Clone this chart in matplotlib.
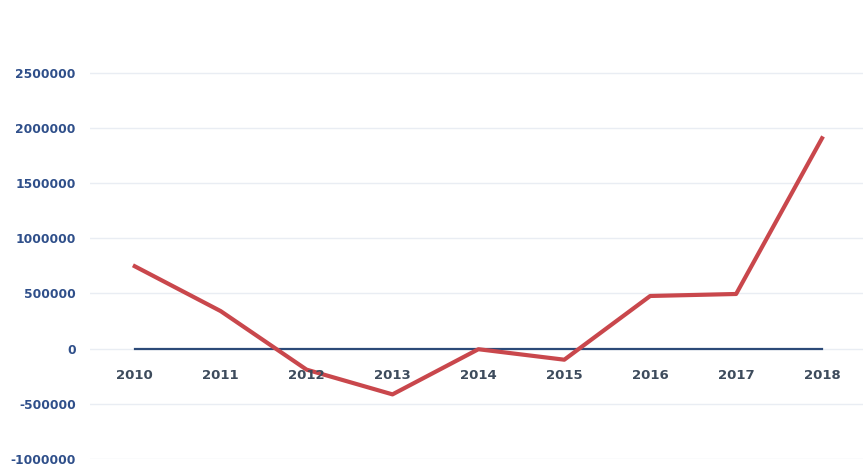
import matplotlib.pyplot as plt

years = ["2010", "2011", "2012", "2013", "2014", "2015", "2016", "2017", "2018"]
values = [746000, 340000, -190000, -414000, -5000, -100000, 477000, 495000, 1905000]
y_ticks = [-1000000, -500000, 0, 500000, 1000000, 1500000, 2000000, 2500000]

fig = plt.figure(figsize=(8.63, 4.68), dpi=100)
ax = fig.add_axes([0.104, 0.019, 0.896, 0.944])

x = list(range(len(years)))

for t in y_ticks:
    ax.axhline(t, color="#e9edf3", lw=1.0, zorder=0)

# zero line across the categories
ax.plot([0, len(years) - 1], [0, 0], color="#2c4a78", lw=1.6, zorder=2)
ax.plot(x, values, color="#c9474c", lw=3.0, solid_joinstyle="round", zorder=3)

for i, yr in enumerate(years):
    ax.text(i, -240000, yr, ha="center", va="center", fontsize=9.5,
            fontweight="bold", color="#3d4b5c")

ax.set_xlim(-0.524, 8.477)
ax.set_ylim(-1000000, 3000000)
ax.set_yticks(y_ticks)
ax.set_yticklabels([str(t) for t in y_ticks])
ax.set_xticks([])
ax.tick_params(axis="y", length=0, pad=10, labelsize=8.8, labelcolor="#2f4f8a")
for lbl in ax.get_yticklabels():
    lbl.set_fontweight("bold")
for s in ax.spines.values():
    s.set_visible(False)

fig.savefig("out.png", dpi=100)
